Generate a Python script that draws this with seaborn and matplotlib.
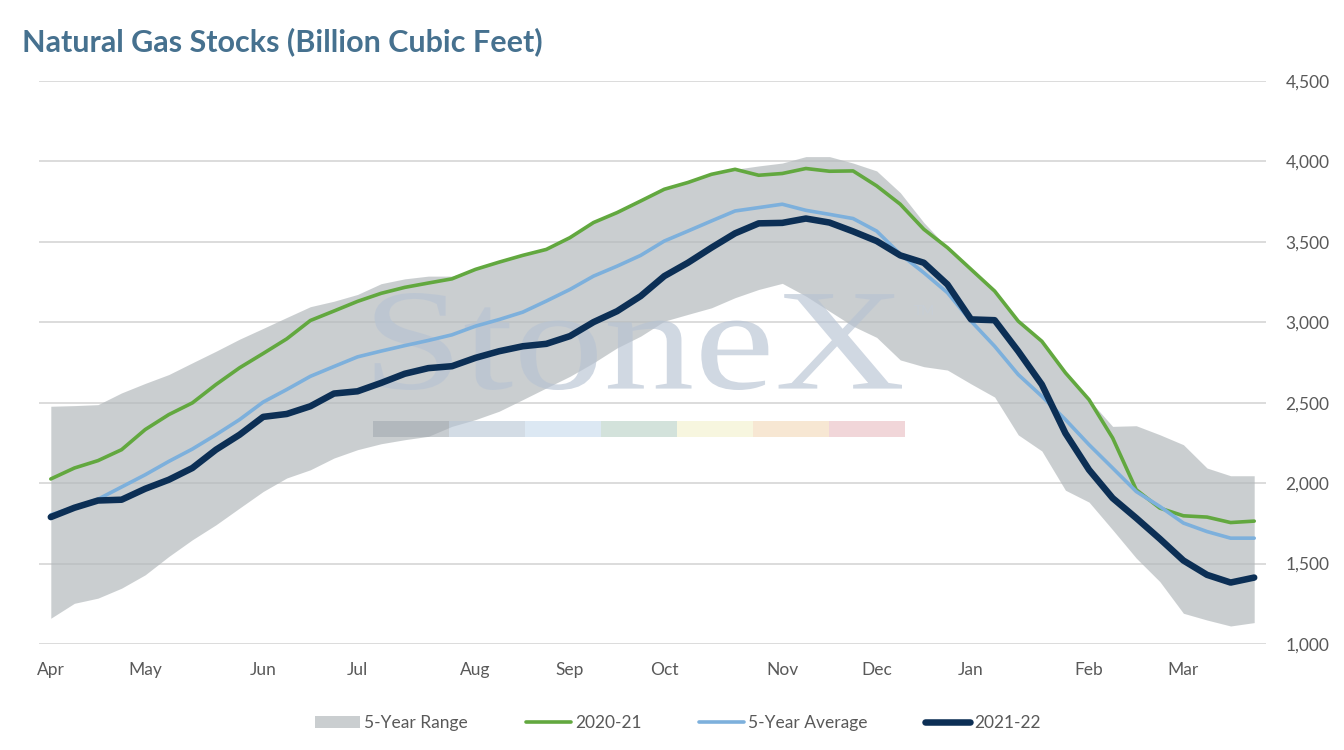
import numpy as np
import pandas as pd
import matplotlib
matplotlib.use('Agg')
import matplotlib.pyplot as plt
import seaborn as sns
from matplotlib.patches import Rectangle, PathPatch, Patch
from matplotlib.lines import Line2D
from matplotlib.textpath import TextPath
from matplotlib.font_manager import FontProperties
from matplotlib.transforms import Affine2D
from matplotlib.ticker import FuncFormatter

# weekly storage, Apr -> Mar (52 weeks), Bcf
month_labels = ['Apr', 'May', 'Jun', 'Jul', 'Aug', 'Sep', 'Oct', 'Nov', 'Dec', 'Jan', 'Feb', 'Mar']
month_weeks = [0, 4, 9, 13, 18, 22, 26, 31, 35, 39, 44, 48]

range_low = [1160, 1253, 1285, 1347, 1430, 1544, 1648, 1741, 1845, 1948,
             2032, 2083, 2156, 2208, 2245, 2270, 2291, 2353, 2395, 2447,
             2519, 2592, 2664, 2748, 2841, 2914, 3007, 3049, 3090, 3153,
             3204, 3242, 3163, 3069, 2976, 2906, 2766, 2724, 2703, 2617,
             2535, 2300, 2200, 1956, 1882, 1710, 1534, 1388, 1191, 1149,
             1112, 1133]
range_high = [2478, 2482, 2488, 2561, 2620, 2675, 2748, 2820, 2895, 2962,
              3030, 3097, 3131, 3173, 3240, 3270, 3287, 3287, 3329, 3374,
              3416, 3453, 3526, 3620, 3682, 3754, 3827, 3869, 3920, 3951,
              3972, 3990, 4030, 4030, 3990, 3941, 3806, 3620, 3464, 3329,
              3194, 3007, 2882, 2686, 2519, 2353, 2357, 2301, 2239, 2094,
              2046, 2046]
y2020_21 = [2026, 2094, 2140, 2208, 2333, 2426, 2499, 2613, 2717, 2806,
            2897, 3011, 3070, 3130, 3180, 3217, 3244, 3270, 3329, 3374,
            3416, 3453, 3526, 3620, 3682, 3754, 3827, 3869, 3920, 3951,
            3914, 3925, 3956, 3939, 3941, 3848, 3734, 3578, 3464, 3329,
            3194, 3007, 2882, 2686, 2519, 2281, 1959, 1845, 1797, 1789,
            1755, 1764]
avg_5yr = [1803, 1850, 1900, 1976, 2052, 2135, 2212, 2301, 2395, 2504,
           2582, 2664, 2725, 2785, 2821, 2855, 2887, 2922, 2976, 3017,
           3063, 3132, 3204, 3287, 3349, 3416, 3505, 3567, 3630, 3692,
           3713, 3734, 3696, 3671, 3645, 3567, 3423, 3308, 3184, 3007,
           2851, 2675, 2540, 2395, 2239, 2094, 1948, 1855, 1752, 1699,
           1658, 1658]
y2021_22 = [1789, 1847, 1892, 1897, 1965, 2021, 2094, 2208, 2301, 2412,
            2430, 2478, 2557, 2571, 2623, 2680, 2715, 2727, 2779, 2820,
            2851, 2866, 2914, 3001, 3069, 3163, 3287, 3370, 3464, 3553,
            3615, 3618, 3645, 3620, 3565, 3505, 3416, 3370, 3235, 3018,
            3013, 2820, 2613, 2310, 2083, 1907, 1783, 1654, 1519, 1430,
            1382, 1413]

# colours
c_band = '#b2b8bb'
c_green = '#62a83f'
c_blue = '#7db0dc'
c_navy = '#0c2f55'
c_text = '#595959'

sns.set_theme(style='white')
plt.rcParams['font.family'] = ['Lato', 'DejaVu Sans']

W, H = 1344, 750
fig = plt.figure(figsize=(W / 100, H / 100), dpi=100)
ax = fig.add_axes([39 / W, 1 - 644 / H, (1266 - 39) / W, (644 - 81) / H])

df = pd.DataFrame({
    'week': np.arange(len(avg_5yr)),
    'low': range_low,
    'high': range_high,
    '2020-21': y2020_21,
    '5-Year Average': avg_5yr,
    '2021-22': y2021_22,
})

# 5-year range band
ax.fill_between(df['week'], df['low'], df['high'], color=c_band, alpha=0.68,
                linewidth=0, zorder=2)

# StoneX watermark
tp = TextPath((0, 0), 'StoneX', size=1, prop=FontProperties(family='Liberation Serif'))
ext = tp.get_extents()
x0, x1 = 374.5 / W, 902 / W
y0, y1 = 1 - 390 / H, 1 - 293 / H
tf = (Affine2D().translate(-ext.x0, -ext.y0)
      .scale((x1 - x0) / ext.width, (y1 - y0) / ext.height)
      .translate(x0, y0) + fig.transFigure)
ax.add_patch(PathPatch(tp, transform=tf, facecolor='#b7c3d3', edgecolor='none',
                       alpha=0.65, zorder=3))
ax.text(914 / W, 1 - 311 / H, 'TM', transform=fig.transFigure, fontsize=10,
        color='#c8ced6', ha='left', va='center', zorder=3)
bar_cols = ['#a3aab1', '#b6c5d5', '#c6daeb', '#b6d0c3', '#f2f0ca', '#f3d7b6', '#e8bcc1']
seg_w = 76 / W
for i, c in enumerate(bar_cols):
    ax.add_patch(Rectangle((372.7 / W + i * seg_w, 1 - 437.3 / H), seg_w, 16.6 / H,
                           transform=fig.transFigure, facecolor=c, edgecolor='none',
                           alpha=0.6, zorder=3))

# lines
line_kw = dict(solid_capstyle='round', solid_joinstyle='round')
sns.lineplot(data=df, x='week', y='2020-21', ax=ax, color=c_green, linewidth=2.6,
             zorder=4, **line_kw)
sns.lineplot(data=df, x='week', y='5-Year Average', ax=ax, color=c_blue, linewidth=2.6,
             zorder=5, **line_kw)
sns.lineplot(data=df, x='week', y='2021-22', ax=ax, color=c_navy, linewidth=4.7,
             zorder=6, **line_kw)

# axes
ax.set_xlim(-0.5, len(avg_5yr) - 0.5)
ax.set_ylim(1000, 4500)
ax.set_yticks(range(1000, 4501, 500))
ax.yaxis.set_major_formatter(FuncFormatter(lambda v, p: f'{int(v):,}'))
ax.yaxis.tick_right()
ax.set_xticks(month_weeks)
ax.set_xticklabels(month_labels)
ax.set_xlabel('')
ax.set_ylabel('')
ax.tick_params(axis='both', length=0, labelsize=12.5, labelcolor=c_text)
ax.tick_params(axis='y', pad=14)
ax.tick_params(axis='x', pad=13)
ax.set_axisbelow(True)
ax.grid(axis='y', color='#d9d9d9', linewidth=1.3)
ax.grid(axis='x', visible=False)
for s in ax.spines.values():
    s.set_visible(False)

fig.text(22 / W, 1 - 42 / H, 'Natural Gas Stocks (Billion Cubic Feet)', ha='left',
         va='center', fontsize=22, fontweight='bold', color='#46718f')

handles = [
    Patch(facecolor=c_band, alpha=0.68, edgecolor='none'),
    Line2D([], [], color=c_green, linewidth=2.6, solid_capstyle='round'),
    Line2D([], [], color=c_blue, linewidth=2.6, solid_capstyle='round'),
    Line2D([], [], color=c_navy, linewidth=4.7, solid_capstyle='round'),
]
labels = ['5-Year Range', '2020-21', '5-Year Average', '2021-22']
fig.legend(handles, labels, loc='center', bbox_to_anchor=(678 / W, 1 - 723 / H),
           ncol=4, frameon=False, handlelength=2.6, handletextpad=0.25,
           columnspacing=3.3, fontsize=12.5, labelcolor=c_text)

fig.savefig('out.png', dpi=100)
